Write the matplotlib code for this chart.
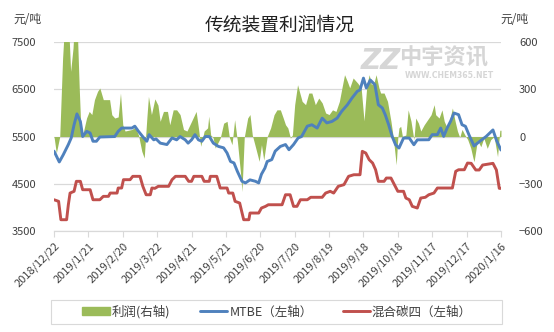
import matplotlib
matplotlib.use("Agg")
import matplotlib.pyplot as plt
from matplotlib.patches import Rectangle
import pandas as pd

plt.rcParams['font.family'] = ['Noto Sans CJK SC', 'DejaVu Sans']

start = pd.Timestamp('2018-12-22')

# day offsets from 2018/12/22 and values
mtbe_days = [0, 4.6, 8, 12.5, 15, 17.5, 20, 23, 25, 28.5, 31.5, 34, 37, 40, 53, 56, 59, 68, 70.5,
             73.7, 78, 81, 83, 87, 89, 92.7, 98.5, 103, 107, 110, 114.5, 117, 120, 123, 126, 129,
             132, 135.5, 139, 143.5, 148, 151, 154, 157, 160, 164, 167, 171, 175.7, 178.6, 181,
             184, 186, 190, 193, 197.5, 202, 205, 209, 213, 216, 221, 225, 229.6, 234, 238, 242.5,
             247, 251, 256, 260, 264.6, 267, 270, 272.5, 276, 280, 283, 286.5, 289, 292, 295, 298,
             301, 305, 310, 314, 317, 327, 330, 334.5, 337.4, 340, 343, 346, 349, 353, 356, 359,
             362, 366.5, 371, 377, 383, 386, 390]
mtbe = [5190, 4960, 5110, 5330, 5470, 5750, 5980, 5820, 5500, 5610, 5575, 5400, 5400, 5490, 5500,
        5610, 5680, 5680, 5720, 5610, 5480, 5400, 5540, 5430, 5450, 5360, 5330, 5470, 5430, 5500,
        5430, 5360, 5430, 5540, 5430, 5400, 5500, 5500, 5360, 5290, 5260, 5150, 4970, 4940, 4760,
        4550, 4515, 4580, 4550, 4515, 4700, 4830, 4970, 5010, 5190, 5290, 5330, 5220, 5330, 5470,
        5500, 5720, 5750, 5680, 5890, 5790, 5820, 5890, 6035, 6175, 6317, 6460, 6490, 6740, 6530,
        6700, 6600, 6175, 6105, 5963, 5751, 5504, 5326, 5256, 5468, 5468, 5326, 5430, 5432, 5540,
        5540, 5680, 5504, 5680, 5823, 5999, 5964, 5751, 5717, 5540, 5300, 5390, 5500, 5640, 5425,
        5213]

c4_days = [0, 4, 6, 11, 12.5, 14, 17.5, 19.5, 23, 25, 31.5, 34, 40, 43, 47.5, 49, 55, 56, 59, 60.6,
           66.4, 68.7, 75, 77.5, 80.4, 84, 85.4, 88, 91, 100, 103, 106, 114.5, 117.5, 120, 122, 129,
           131, 135.5, 136.4, 142, 145, 151, 152.4, 156, 158, 162, 165.5, 170, 171, 178.6, 181,
           184.5, 187, 199, 202, 206, 209, 212, 215, 221, 224, 234, 237, 241, 244, 248, 253, 257,
           261.6, 267, 269, 272, 275, 278, 280.6, 283, 288, 290, 294, 297, 300, 305, 307, 310,
           312.6, 317, 320, 324, 327, 331.5, 334.5, 347.6, 350.5, 353, 358, 360.8, 364, 368, 371,
           374, 383, 386, 388.5, 390]
c4 = [4158, 4124, 3734, 3734, 4052, 4300, 4337, 4549, 4549, 4371, 4371, 4158, 4158, 4230, 4230,
      4300, 4300, 4407, 4407, 4584, 4584, 4655, 4655, 4443, 4264, 4264, 4407, 4400, 4443, 4443,
      4584, 4655, 4655, 4549, 4549, 4655, 4655, 4549, 4549, 4655, 4655, 4407, 4407, 4300, 4300,
      4124, 4088, 3734, 3734, 3876, 3876, 3982, 4017, 4052, 4052, 4264, 4264, 4018, 4018, 4158,
      4158, 4210, 4210, 4300, 4337, 4300, 4443, 4478, 4655, 4689, 4689, 5186, 5150, 5008, 4937,
      4795, 4549, 4549, 4619, 4619, 4477, 4337, 4337, 4194, 4158, 4018, 3982, 4194, 4210, 4264,
      4300, 4407, 4407, 4761, 4795, 4795, 4937, 4931, 4790, 4790, 4895, 4931, 4790, 4400, 4400]

profit_days = [0, 2, 5, 7.5, 9.5, 12.5, 14.5, 16.6, 18, 20, 22, 23.4, 25, 28.4, 30.7, 33, 35.3, 38,
               40, 43, 48.5, 50.4, 53, 56, 58, 60, 62, 68, 70.8, 73.7, 76.6, 78.7, 81, 82.4, 85, 88,
               90.7, 92.6, 95.5, 99, 101, 104, 107, 110, 113, 116, 120, 124, 126, 128, 131, 134,
               135, 136.7, 138.7, 140.7, 145, 148, 151, 153, 155.3, 157.6, 160, 162.6, 164, 166,
               169, 171, 173, 176, 179, 181, 183, 186, 189, 192, 194.5, 197.5, 200, 202, 204,
               206.3, 208, 210, 212.5, 214, 216.5, 219.5, 222.3, 225, 228, 231, 234, 237, 240, 243,
               246, 249, 251.5, 253.5, 256, 258, 261, 265, 268, 270.5, 273, 275, 277, 279.5, 281,
               283.5, 285, 288, 291, 294, 295.5, 297, 298.6, 300, 301, 302.5, 304, 307, 309, 311.5,
               314, 315.6, 318, 320, 323, 326, 329, 331.7, 333, 336, 338.5, 340.5, 343, 345, 347.6,
               350, 352, 354, 356, 358.5, 361, 363.6, 365.6, 366.5, 369.5, 372.4, 375, 378, 381,
               384, 387, 389, 390]
profit = [0, -105, 0, 500, 750, 750, 415, 564, 750, 750, 310, 55, 10, 118, 160, 140, 235, 288, 309,
          235, 235, 139, 118, 125, 277, 75, 35, 45, 60, 10, -94, -137, 118, 256, 140, 240, 200, 97,
          160, 160, 75, 170, 170, 140, 45, 35, 97, 160, 55, -62, 35, 55, 130, 10, -5, -73, -10, 85,
          97, -5, -52, 107, -30, -222, -350, -5, 118, 140, 10, -73, -158, -52, -150, 0, 55, 139,
          170, 170, 118, 75, 55, -10, 10, 203, 330, 290, 224, 203, 277, 277, 203, 245, 214, 150,
          140, 170, 160, 224, 320, 394, 350, 310, 373, 340, 310, 100, 330, 394, 330, 350, 394, 310,
          277, 277, 224, 97, 20, -73, -180, -5, 55, 65, 0, 10, 170, 97, -20, 118, 85, 35, 75, 107,
          139, 203, 139, 118, 170, 97, 55, 97, 182, 97, 35, -5, 45, 10, -20, -73, -137, -160, -22,
          -65, -10, -75, -20, 0, -128, 40, 40]

tick_dates = pd.date_range(start, periods=14, freq='30D')
tick_labels = [f"{d.year}/{d.month}/{d.day}" for d in tick_dates]

mtbe_x = start + pd.to_timedelta(mtbe_days, unit='D')
c4_x = start + pd.to_timedelta(c4_days, unit='D')
profit_x = start + pd.to_timedelta(profit_days, unit='D')

green = '#9BBB59'
blue = '#4F81BD'
red = '#C0504D'
grid_c = '#D9D9D9'
txt_c = '#404040'

fig = plt.figure(figsize=(5.54, 3.32), dpi=100)
ax = fig.add_axes([0.0975, 0.305, 0.8068, 0.5675])
ax2 = ax.twinx()
ax.set_zorder(ax2.get_zorder() + 1)
ax.patch.set_visible(False)

# right axis: profit area + grid
ax2.fill_between(profit_x, 0, profit, color=green, linewidth=0, zorder=2)
ax2.set_ylim(-600, 600)
ax2.set_yticks([-600, -300, 0, 300, 600])
ax2.yaxis.grid(True, color=grid_c, linewidth=0.9)
ax2.set_axisbelow(True)

# left axis: price lines
ax.plot(mtbe_x, mtbe, color=blue, linewidth=2.1, solid_capstyle='round')
ax.plot(c4_x, c4, color=red, linewidth=2.1, solid_capstyle='round')
ax.set_ylim(3500, 7500)
ax.set_yticks([3500, 4500, 5500, 6500, 7500])

ax.set_xlim(tick_dates[0], tick_dates[-1])
ax.set_xticks(tick_dates)
ax.set_xticklabels(tick_labels, rotation=45, ha='right', rotation_mode='anchor', fontsize=8)

for a in (ax, ax2):
    for s in ('top', 'left', 'right'):
        a.spines[s].set_visible(False)
    a.spines['bottom'].set_color(grid_c)
ax.tick_params(axis='x', length=4, color=grid_c, pad=3, labelcolor=txt_c)
ax.tick_params(axis='y', length=0, pad=13, labelsize=8, labelcolor=txt_c)
ax2.tick_params(axis='y', length=0, pad=13, labelsize=8, labelcolor=txt_c)
for lbl in ax2.get_yticklabels():
    lbl.set_horizontalalignment('left')

# watermark
ax2.text(0.652, 0.857, 'ZZ', transform=fig.transFigure, fontsize=20, fontweight='bold',
         style='italic', color='#D6D6D6', ha='left', va='top', zorder=1, family='DejaVu Sans')
ax2.text(0.721, 0.86, '中宇资讯', transform=fig.transFigure, fontsize=16, fontweight='bold',
         color='#D6D6D6', ha='left', va='top', zorder=1)
ax2.text(0.731, 0.785, 'WWW.CHEM365.NET', transform=fig.transFigure, fontsize=5.6,
         fontweight='bold', color='#D6D6D6', ha='left', va='top', zorder=1, family='DejaVu Sans')

fig.text(0.505, 0.925, '传统装置利润情况', ha='center', va='center', fontsize=13.5, color='#202020')
fig.text(0.025, 0.94, '元/吨', ha='left', va='center', fontsize=8.5, color=txt_c)
fig.text(0.903, 0.94, '元/吨', ha='left', va='center', fontsize=8.5, color=txt_c)

handles = [Rectangle((0, 0), 1, 1, color=green), ax.lines[0], ax.lines[1]]
labels = ['利润(右轴)', 'MTBE（左轴）', '混合碳四（左轴）']
fig.legend(handles, labels, loc='center', bbox_to_anchor=(0.5, 0.061), ncol=3, frameon=False,
           fontsize=9, handlelength=2.2, handletextpad=0.15, columnspacing=2.4, handleheight=0.55,
           labelcolor=txt_c)
fig.patches.append(Rectangle((51 / 554, 1 - 324 / 332), 451 / 554, 24 / 332,
                             transform=fig.transFigure, fill=False, edgecolor=grid_c, linewidth=0.8))

fig.savefig('out.png', dpi=100)
